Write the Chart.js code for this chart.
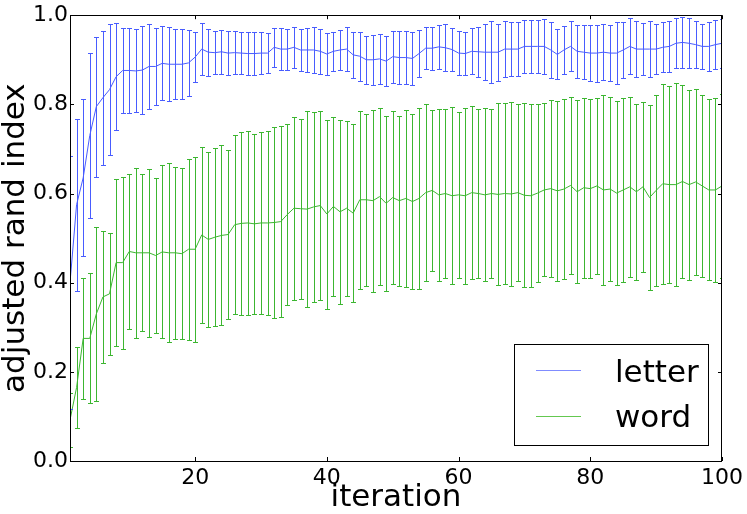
<!DOCTYPE html>
<html>
<head>
<meta charset="utf-8">
<script src="https://cdn.jsdelivr.net/npm/chart.js@4/dist/chart.umd.min.js"></script>
<style>
  html, body { margin: 0; padding: 0; background: #fff; }
  #wrap { width: 747px; height: 514px; }
</style>
</head>
<body>
<div id="wrap"><canvas id="ariChart" width="747" height="514"></canvas></div>
<script>
// ===============================
// data
// ===============================
const iterations = Array.from({ length: 100 }, (_, i) => i + 1);

const letterMean = [
  0.400, 0.575, 0.635, 0.730, 0.795, 0.815, 0.833, 0.862, 0.876, 0.876,
  0.875, 0.877, 0.885, 0.885, 0.892, 0.890, 0.890, 0.890, 0.893, 0.906,
  0.924, 0.917, 0.916, 0.918, 0.915, 0.916, 0.915, 0.914, 0.914, 0.915,
  0.915, 0.928, 0.924, 0.924, 0.928, 0.922, 0.922, 0.922, 0.919, 0.913,
  0.919, 0.922, 0.924, 0.911, 0.908, 0.900, 0.900, 0.902, 0.897, 0.907,
  0.905, 0.905, 0.903, 0.914, 0.926, 0.926, 0.929, 0.927, 0.923, 0.915,
  0.914, 0.919, 0.918, 0.917, 0.917, 0.917, 0.924, 0.924, 0.924, 0.930,
  0.930, 0.930, 0.930, 0.922, 0.912, 0.922, 0.930, 0.919, 0.917, 0.915,
  0.915, 0.917, 0.915, 0.915, 0.922, 0.930, 0.924, 0.924, 0.924, 0.924,
  0.928, 0.930, 0.937, 0.939, 0.937, 0.934, 0.930, 0.930, 0.934, 0.937
];
const letterStd = [
  0.284, 0.193, 0.176, 0.186, 0.157, 0.150, 0.147, 0.120, 0.095, 0.095,
  0.093, 0.098, 0.096, 0.086, 0.083, 0.083, 0.079, 0.078, 0.074, 0.056,
  0.059, 0.053, 0.049, 0.049, 0.049, 0.049, 0.048, 0.048, 0.048, 0.047,
  0.044, 0.044, 0.047, 0.046, 0.046, 0.047, 0.050, 0.052, 0.050, 0.048,
  0.044, 0.044, 0.050, 0.051, 0.055, 0.054, 0.056, 0.056, 0.056, 0.058,
  0.059, 0.059, 0.059, 0.053, 0.047, 0.048, 0.050, 0.053, 0.049, 0.050,
  0.049, 0.052, 0.056, 0.063, 0.069, 0.064, 0.062, 0.061, 0.061, 0.059,
  0.059, 0.059, 0.061, 0.063, 0.056, 0.054, 0.056, 0.059, 0.061, 0.063,
  0.064, 0.063, 0.063, 0.069, 0.063, 0.063, 0.063, 0.058, 0.063, 0.056,
  0.056, 0.057, 0.056, 0.057, 0.056, 0.052, 0.051, 0.055, 0.055, 0.055
];

const wordMean = [
  0.092, 0.165, 0.275, 0.275, 0.330, 0.368, 0.375, 0.445, 0.445, 0.470,
  0.467, 0.467, 0.467, 0.461, 0.469, 0.467, 0.467, 0.465, 0.475, 0.475,
  0.507, 0.497, 0.502, 0.506, 0.508, 0.530, 0.533, 0.534, 0.532, 0.534,
  0.534, 0.535, 0.537, 0.553, 0.567, 0.566, 0.565, 0.570, 0.573, 0.554,
  0.571, 0.559, 0.567, 0.556, 0.586, 0.586, 0.584, 0.593, 0.578, 0.591,
  0.584, 0.589, 0.582, 0.589, 0.602, 0.607, 0.597, 0.600, 0.595, 0.597,
  0.595, 0.602, 0.600, 0.597, 0.600, 0.598, 0.600, 0.599, 0.602, 0.596,
  0.595, 0.601, 0.608, 0.611, 0.606, 0.610, 0.618, 0.604, 0.613, 0.611,
  0.617, 0.608, 0.610, 0.601, 0.608, 0.615, 0.604, 0.615, 0.591, 0.607,
  0.622, 0.620, 0.620, 0.627, 0.620, 0.626, 0.617, 0.608, 0.608, 0.617
];
const wordStd = [
  0.060, 0.091, 0.136, 0.146, 0.196, 0.149, 0.137, 0.188, 0.193, 0.174,
  0.191, 0.176, 0.189, 0.174, 0.194, 0.201, 0.193, 0.192, 0.203, 0.207,
  0.197, 0.196, 0.200, 0.202, 0.190, 0.201, 0.205, 0.207, 0.202, 0.205,
  0.207, 0.215, 0.214, 0.202, 0.205, 0.202, 0.220, 0.213, 0.211, 0.212,
  0.201, 0.206, 0.196, 0.200, 0.200, 0.193, 0.204, 0.198, 0.196, 0.193,
  0.191, 0.198, 0.196, 0.203, 0.198, 0.181, 0.193, 0.190, 0.199, 0.186,
  0.197, 0.194, 0.190, 0.194, 0.190, 0.204, 0.202, 0.206, 0.199, 0.206,
  0.205, 0.200, 0.194, 0.198, 0.202, 0.202, 0.199, 0.205, 0.202, 0.200,
  0.197, 0.213, 0.207, 0.206, 0.207, 0.202, 0.197, 0.190, 0.207, 0.214,
  0.224, 0.221, 0.227, 0.217, 0.213, 0.208, 0.205, 0.203, 0.206, 0.206
];

const seriesNames = ["letter", "word"];
const xTicks = [20, 40, 60, 80, 100];
const yTicks = [0, 0.2, 0.4, 0.6, 0.8, 1.0];

const BLUE = "rgb(72, 92, 255)";
const GREEN = "rgb(60, 182, 48)";
const FONT = "DejaVu Sans";

// error bars (mean +/- std) drawn through the chart scales
const errorBars = {
  id: "errorBars",
  afterDatasetsDraw(chart) {
    const { ctx, chartArea, scales: { x, y } } = chart;
    ctx.save();
    ctx.beginPath();
    ctx.rect(chartArea.left, chartArea.top, chartArea.width, chartArea.height);
    ctx.clip();
    ctx.lineWidth = 1;
    chart.data.datasets.forEach(ds => {
      ctx.strokeStyle = ds.borderColor;
      ds.data.forEach((p, i) => {
        const px = Math.round(x.getPixelForValue(p.x)) + 0.5;
        const top = Math.round(y.getPixelForValue(p.y + ds.std[i])) + 0.5;
        const bot = Math.round(y.getPixelForValue(p.y - ds.std[i])) + 0.5;
        ctx.beginPath();
        ctx.moveTo(px, top); ctx.lineTo(px, bot);
        ctx.moveTo(px - 2.5, top); ctx.lineTo(px + 2.5, top);
        ctx.moveTo(px - 2.5, bot); ctx.lineTo(px + 2.5, bot);
        ctx.stroke();
      });
    });
    ctx.restore();
  }
};

// frame, inward ticks and legend box
const frame = {
  id: "frame",
  afterDraw(chart) {
    const { ctx, chartArea: a, scales: { x, y } } = chart;
    ctx.save();
    ctx.strokeStyle = "#000";
    ctx.lineWidth = 1;
    ctx.strokeRect(Math.round(a.left) + 0.5, Math.round(a.top) + 0.5,
      Math.round(a.width) - 1, Math.round(a.height));
    ctx.beginPath();
    xTicks.forEach(v => {
      const px = Math.round(x.getPixelForValue(v)) + 0.5;
      ctx.moveTo(px, a.bottom); ctx.lineTo(px, a.bottom - 4);
      ctx.moveTo(px, a.top); ctx.lineTo(px, a.top + 4);
    });
    yTicks.forEach(v => {
      const py = Math.round(y.getPixelForValue(v)) + 0.5;
      ctx.moveTo(a.left, py); ctx.lineTo(a.left + 4, py);
      ctx.moveTo(a.right, py); ctx.lineTo(a.right - 4, py);
    });
    ctx.stroke();

    // legend
    ctx.strokeStyle = "#000";
    ctx.strokeRect(514.5, 344.5, 194, 101);
    ctx.font = `31px "${FONT}"`;
    ctx.fillStyle = "#000";
    ctx.textBaseline = "alphabetic";
    const rows = [{ y: 370.5, base: 381.5, c: "rgb(128, 140, 255)" },
                  { y: 416.5, base: 427, c: "rgb(100, 200, 80)" }];
    rows.forEach((r, i) => {
      ctx.strokeStyle = r.c;
      ctx.beginPath();
      ctx.moveTo(536, r.y); ctx.lineTo(581, r.y);
      ctx.stroke();
      ctx.fillText(seriesNames[i], 615, r.base);
    });
    ctx.restore();
  }
};

new Chart(document.getElementById("ariChart"), {
  type: "line",
  data: {
    datasets: [
      {
        label: seriesNames[0],
        data: iterations.map((it, i) => ({ x: it, y: letterMean[i] })),
        std: letterStd,
        borderColor: BLUE,
        borderWidth: 1,
        pointRadius: 0,
        tension: 0
      },
      {
        label: seriesNames[1],
        data: iterations.map((it, i) => ({ x: it, y: wordMean[i] })),
        std: wordStd,
        borderColor: GREEN,
        borderWidth: 1,
        pointRadius: 0,
        tension: 0
      }
    ]
  },
  options: {
    responsive: false,
    animation: false,
    layout: { padding: { left: 0, right: 23, top: 11, bottom: 0 } },
    scales: {
      x: {
        type: "linear",
        min: 1,
        max: 100,
        afterBuildTicks: s => { s.ticks = xTicks.map(v => ({ value: v })); },
        afterFit: s => { s.height = 53; },
        grid: { display: false, drawTicks: false },
        border: { display: false },
        ticks: {
          color: "#000",
          padding: 4,
          maxRotation: 0,
          font: { family: FONT, size: 22 }
        },
        title: {
          display: true,
          text: "iteration",
          color: "#000",
          font: { family: FONT, size: 31, lineHeight: 1 },
          padding: { top: 0, bottom: 1 }
        }
      },
      y: {
        min: 0,
        max: 1,
        afterBuildTicks: s => { s.ticks = yTicks.map(v => ({ value: v })); },
        afterFit: s => { s.width = 70; },
        grid: { display: false, drawTicks: false },
        border: { display: false },
        ticks: {
          color: "#000",
          padding: 2,
          font: { family: FONT, size: 22 },
          callback: v => v.toFixed(1)
        },
        title: {
          display: true,
          text: "adjusted rand index",
          color: "#000",
          font: { family: FONT, size: 31, lineHeight: 1 },
          padding: { top: 0, bottom: 0 }
        }
      }
    },
    plugins: {
      legend: { display: false },
      tooltip: { enabled: false }
    }
  },
  plugins: [errorBars, frame]
});
</script>
</body>
</html>
